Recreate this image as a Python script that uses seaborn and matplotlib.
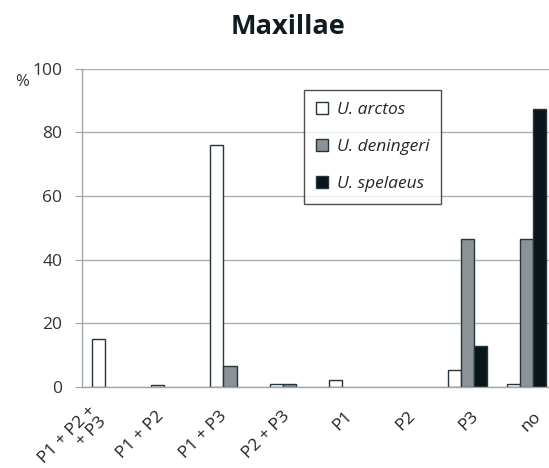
import numpy as np
import pandas as pd
import matplotlib.pyplot as plt
import seaborn as sns

categories = ['P1 + P2 +\n+ P3', 'P1 + P2', 'P1 + P3', 'P2 + P3', 'P1', 'P2', 'P3', 'no']
species = ['U. arctos', 'U. deningeri', 'U. spelaeus']
arctos = [15.2, 0.5, 76.0, 1.0, 2.2, 0.0, 5.5, 1.0]
deningeri = [0.0, 0.0, 6.5, 1.0, 0.0, 0.0, 46.5, 46.5]
spelaeus = [0.0, 0.0, 0.0, 0.0, 0.0, 0.0, 13.0, 87.5]
colors = ['#ffffff', '#8a9399', '#06161d']

rows = []
for sp, vals in zip(species, [arctos, deningeri, spelaeus]):
    for cat, v in zip(categories, vals):
        if v > 0:
            rows.append({'cat': cat, 'species': sp, 'val': v})
df = pd.DataFrame(rows)

sns.set_style('white')
plt.rcParams['font.family'] = ['Open Sans', 'DejaVu Sans']

fig = plt.figure(figsize=(5.49, 4.68), dpi=100)
# axes runs a bit past the right edge, like the cropped original
ax = fig.add_axes([0.149, 0.173, 0.864, 0.68])

sns.barplot(data=df, x='cat', y='val', hue='species', order=categories,
            hue_order=species, palette=colors, edgecolor='#26343c',
            linewidth=1.0, width=0.663, ax=ax, errorbar=None)

ax.set_xlim(-0.5, 7.5)
ax.set_ylim(0, 100)
ax.set_yticks(range(0, 101, 20))
ax.yaxis.grid(True, color='#a9aeb1', linewidth=1.0)
ax.set_axisbelow(True)
for s in ['top', 'right']:
    ax.spines[s].set_visible(False)
for s in ['left', 'bottom']:
    ax.spines[s].set_color('#a0a6a9')
    ax.spines[s].set_linewidth(1.0)
ax.tick_params(axis='y', left=True, length=5, color='#a0a6a9', labelsize=12.5,
               labelcolor='#333333', pad=9)
ax.tick_params(axis='x', bottom=False, labelsize=12.5, labelcolor='#222222', pad=16)
# labels in the original sit slightly more spread out than the bar groups
pos = np.arange(len(categories))
ax.set_xticks(pos + (pos - 3.5) * 0.06)
ax.set_xticklabels(categories, rotation=45, ha='right', va='center',
                   rotation_mode='anchor', multialignment='right',
                   linespacing=0.9)
ax.set_xlabel('')
ax.set_ylabel('')
fig.text(0.04, 0.825, '%', fontsize=12, color='#333333', ha='center', va='center')
fig.text(0.525, 0.942, 'Maxillae', fontsize=19.5, fontweight='bold', ha='center',
         va='center', color='#111c22')

handles, labels = ax.get_legend_handles_labels()
leg = ax.legend(handles, labels, loc='upper left', bbox_to_anchor=(0.468, 0.934),
                prop={'style': 'italic', 'size': 12.5}, frameon=True, fancybox=False,
                edgecolor='#222222', handlelength=0.7, handleheight=0.7,
                handletextpad=0.5, labelspacing=1.2, borderpad=0.7,
                borderaxespad=0)
leg.get_frame().set_linewidth(1.0)

fig.savefig('out.png', dpi=100)
